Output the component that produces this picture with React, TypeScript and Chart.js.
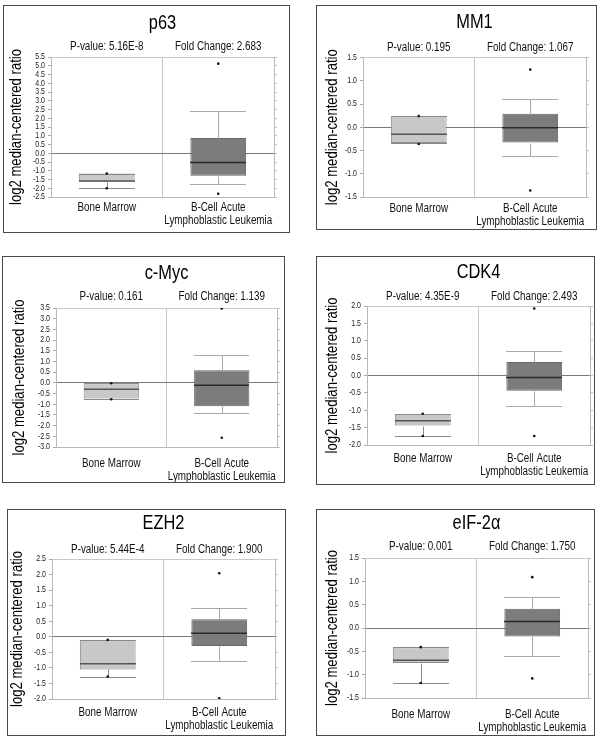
import { useEffect, useRef } from 'react';
import { Chart, registerables } from 'chart.js';

Chart.register(...registerables);

const FONT = '"Liberation Sans", Arial, sans-serif';
const NARROW = 0.82; // horizontal squeeze that mimics the narrow face of the original

// ---- data ----
const genes = ['p63', 'MM1', 'c-Myc', 'CDK4', 'EZH2', 'eIF-2α'];
const pValues = ['5.16E-8', '0.195', '0.161', '4.35E-9', '5.44E-4', '0.001'];
const foldChanges = ['2.683', '1.067', '1.139', '2.493', '1.900', '1.750'];
const categories: string[][] = [['Bone Marrow'], ['B-Cell Acute', 'Lymphoblastic Leukemia']];
const yAxisTitle = 'log2 median-centered ratio';
const yMins = [-2.5, -1.5, -3.0, -2.0, -2.0, -1.5];
const yMaxs = [5.5, 1.5, 3.5, 2.0, 2.5, 1.5];
const yStep = 0.5;

// per gene: [min, p10, q1, median, q3, p90, max]
const boneMarrowStats = [
  [-2.0, -2.0, -1.63, -1.58, -1.16, -1.16, -1.16],
  [-0.36, -0.34, -0.34, -0.15, 0.24, 0.24, 0.24],
  [-0.77, -0.74, -0.73, -0.3, -0.02, -0.02, -0.02],
  [-1.74, -1.74, -1.44, -1.3, -1.11, -1.11, -1.1],
  [-1.28, -1.28, -1.05, -0.87, -0.1, -0.1, -0.1],
  [-1.18, -1.18, -0.75, -0.69, -0.41, -0.41, -0.41],
];
const bCellAllStats = [
  [-2.31, -1.73, -1.29, -0.53, 0.87, 2.4, 5.12],
  [-1.36, -0.62, -0.33, -0.01, 0.29, 0.61, 1.24],
  [-2.57, -1.42, -1.09, -0.11, 0.59, 1.29, 3.48],
  [-1.74, -0.87, -0.44, -0.06, 0.39, 0.7, 1.93],
  [-1.98, -0.78, -0.3, 0.11, 0.56, 0.91, 2.04],
  [-1.08, -0.61, -0.18, 0.14, 0.41, 0.66, 1.09],
];

// ---- layout (page pixels) ----
type PanelLayout = {
  box: [number, number, number, number];
  plot: [number, number, number, number];
  titleY: number;
  subY: number;
  yTitleX: number;
  catY: number;
};
const layouts: PanelLayout[] = [
  { box: [3, 5, 290, 233], plot: [51, 57, 274, 197], titleY: 23, subY: 47, yTitleX: 17, catY: 208 },
  { box: [316, 5, 597, 230], plot: [363, 57.5, 586, 197], titleY: 22, subY: 48, yTitleX: 333, catY: 209 },
  { box: [2, 256, 285, 483], plot: [56, 308, 277, 447], titleY: 273, subY: 297, yTitleX: 20, catY: 464 },
  { box: [316, 256, 595, 485], plot: [367, 306, 590, 445], titleY: 272, subY: 297, yTitleX: 333, catY: 459 },
  { box: [7, 509, 286, 736], plot: [52, 559, 275, 699], titleY: 523, subY: 550, yTitleX: 18, catY: 713 },
  { box: [316, 509, 595, 736], plot: [365, 558, 588, 698], titleY: 523, subY: 547, yTitleX: 333, catY: 715 },
];

const boxFill = ['#c8c8c8', '#7c7c7c'];
const boxBorder = ['#8e8e8e', '#666666'];
const medianColor = ['#555555', '#2a2a2a'];
const whiskerColor = ['#8a8a8a', '#a8a8a8'];

function narrowText(
  ctx: CanvasRenderingContext2D,
  text: string,
  x: number,
  y: number,
  size: number,
  align: CanvasTextAlign,
  rotate = false,
) {
  ctx.save();
  ctx.translate(x, y);
  if (rotate) ctx.rotate(-Math.PI / 2);
  ctx.scale(NARROW, 1);
  ctx.font = `${size}px ${FONT}`;
  ctx.textAlign = align;
  ctx.textBaseline = 'middle';
  ctx.fillText(text, 0, 0);
  ctx.restore();
}

function Panel({ i }: { i: number }) {
  const ref = useRef<HTMLCanvasElement>(null);
  const L = layouts[i];
  const [bx, by, bx2, by2] = L.box;
  const w = bx2 - bx;
  const h = by2 - by;

  useEffect(() => {
    if (!ref.current) return;
    const plotL = L.plot[0] - bx;
    const plotT = L.plot[1] - by;
    const plotR = L.plot[2] - bx;
    const plotB = L.plot[3] - by;
    const stats = [boneMarrowStats[i], bCellAllStats[i]];
    const min = yMins[i];
    const max = yMaxs[i];

    const boxPlugin = {
      id: 'boxWhiskers',
      afterDatasetDraw(chart: any, args: any) {
        if (args.index !== 0) return;
        const { ctx } = chart;
        const y = chart.scales.y;
        const meta = chart.getDatasetMeta(0);
        stats.forEach((s, k) => {
          const bar = meta.data[k];
          const cx = bar.x;
          const half = bar.width / 2;
          const [, p10, q1, med, q3, p90] = s;
          const py = (v: number) => Math.round(y.getPixelForValue(v)) + 0.5;
          const xl = Math.round(cx - half);
          const xr = Math.round(cx + half);
          const xc = Math.round(cx) + 0.5;
          ctx.save();
          ctx.lineWidth = 1;
          ctx.strokeStyle = whiskerColor[k];
          ctx.beginPath();
          ctx.moveTo(xc, py(q3));
          ctx.lineTo(xc, py(p90));
          ctx.moveTo(xc, py(q1));
          ctx.lineTo(xc, py(p10));
          ctx.moveTo(xl, py(p90));
          ctx.lineTo(xr, py(p90));
          ctx.moveTo(xl, py(p10));
          ctx.lineTo(xr, py(p10));
          ctx.stroke();
          ctx.strokeStyle = medianColor[k];
          ctx.lineWidth = 1.5;
          ctx.beginPath();
          ctx.moveTo(xl, y.getPixelForValue(med));
          ctx.lineTo(xr, y.getPixelForValue(med));
          ctx.stroke();
          ctx.restore();
        });
      },
      afterDraw(chart: any) {
        const { ctx, chartArea } = chart;
        const x = chart.scales.x;
        const y = chart.scales.y;
        ctx.save();
        ctx.fillStyle = '#000';
        // gene title
        narrowText(ctx, genes[i], (chartArea.left + chartArea.right) / 2, L.titleY - by, 20, 'center');
        // p-value / fold change
        ctx.fillStyle = '#111';
        narrowText(ctx, `P-value: ${pValues[i]}`, x.getPixelForValue(0), L.subY - by, 12, 'center');
        narrowText(ctx, `Fold Change: ${foldChanges[i]}`, x.getPixelForValue(1), L.subY - by, 12, 'center');
        // category labels
        categories.forEach((lines, k) => {
          lines.forEach((t, j) => {
            narrowText(ctx, t, x.getPixelForValue(k), L.catY - by + j * 12.5, 12, 'center');
          });
        });
        // y tick labels
        ctx.fillStyle = '#222';
        y.ticks.forEach((t: any) => {
          narrowText(ctx, Number(t.value).toFixed(1), chartArea.left - 6, y.getPixelForValue(t.value), 8.5, 'right');
        });
        // y axis title
        ctx.fillStyle = '#000';
        narrowText(ctx, yAxisTitle, L.yTitleX - bx, (chartArea.top + chartArea.bottom) / 2, 16, 'center', true);
        ctx.restore();
      },
    };

    const chart = new Chart(ref.current, {
      type: 'bar',
      data: {
        labels: categories.map((c) => c.join(' ')),
        datasets: [
          {
            type: 'bar',
            data: stats.map((s) => [s[2], s[4]]) as any,
            backgroundColor: boxFill,
            borderColor: boxBorder,
            borderWidth: 1,
            borderSkipped: false,
            barPercentage: 0.5,
            categoryPercentage: 1,
            grouped: false,
            order: 2,
          } as any,
          {
            type: 'line',
            data: stats.map((s) => s[6]),
            showLine: false,
            pointRadius: 1.3,
            pointBackgroundColor: '#111',
            pointBorderWidth: 0,
            order: 1,
          } as any,
          {
            type: 'line',
            data: stats.map((s) => s[0]),
            showLine: false,
            pointRadius: 1.3,
            pointBackgroundColor: '#111',
            pointBorderWidth: 0,
            order: 1,
          } as any,
        ],
      },
      options: {
        responsive: false,
        animation: false,
        events: [],
        layout: { padding: { top: plotT, left: 0, right: 0, bottom: 0 } },
        plugins: {
          legend: { display: false },
          tooltip: { enabled: false },
          title: { display: false },
        },
        scales: {
          x: {
            type: 'category',
            offset: true,
            grid: { offset: true, display: true, drawTicks: false, color: '#c8c8c8', lineWidth: 1 },
            border: { color: '#b8b8b8' },
            ticks: { display: false, autoSkip: false },
            afterFit(s: any) {
              s.height = h - plotB;
            },
          },
          y: {
            type: 'linear',
            position: 'left',
            min,
            max,
            z: 1,
            ticks: { display: false, stepSize: yStep, autoSkip: false },
            grid: {
              drawOnChartArea: true,
              tickLength: 3,
              tickColor: '#aaaaaa',
              color: (c: any) => {
                const v = c.tick ? c.tick.value : NaN;
                if (Math.abs(v) < 1e-9) return '#7a7a7a';
                if (Math.abs(v - max) < 1e-9) return '#c8c8c8';
                return 'rgba(0,0,0,0)';
              },
            },
            border: { color: '#b8b8b8' },
            afterFit(s: any) {
              s.width = plotL;
            },
          },
          y2: {
            type: 'linear',
            position: 'right',
            min,
            max,
            ticks: { display: false, stepSize: yStep, autoSkip: false },
            grid: { drawOnChartArea: false, tickLength: 3, color: '#c0c0c0' },
            border: { color: '#b8b8b8' },
            afterFit(s: any) {
              s.width = w - plotR;
            },
          },
        },
      } as any,
      plugins: [boxPlugin],
    });
    return () => chart.destroy();
  }, [i]);

  return (
    <div style={{ position: 'absolute', left: bx, top: by, width: w, height: h }}>
      <canvas ref={ref} width={w} height={h} style={{ display: 'block', width: w, height: h }} />
      <div
        style={{
          position: 'absolute',
          left: 0,
          top: 0,
          width: w,
          height: h,
          boxSizing: 'border-box',
          border: '1px solid #4a4a4a',
          pointerEvents: 'none',
        }}
      />
    </div>
  );
}

export default function App() {
  return (
    <div style={{ position: 'absolute', left: 0, top: 0, width: 600, height: 743, background: '#fff', overflow: 'hidden' }}>
      {genes.map((g, i) => (
        <Panel key={g} i={i} />
      ))}
    </div>
  );
}
